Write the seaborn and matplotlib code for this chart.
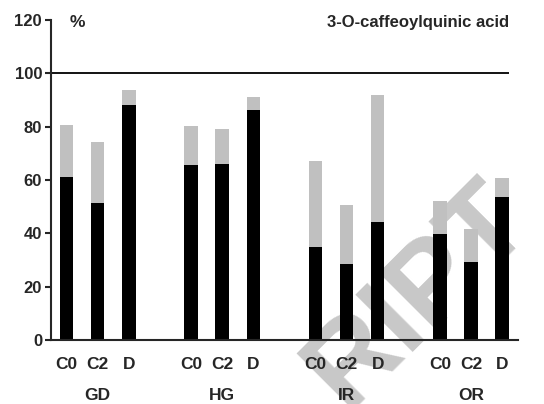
import matplotlib
matplotlib.use("Agg")
import matplotlib.pyplot as plt
import seaborn as sns
import pandas as pd

groups = ["GD", "HG", "IR", "OR"]
treatments = ["C0", "C2", "D"]
black_part = [61.2, 51.2, 88.0, 65.8, 66.0, 86.4, 34.8, 28.6, 44.2, 39.6, 29.3, 53.6]
total = [80.5, 74.2, 93.9, 80.3, 79.3, 91.3, 67.3, 50.7, 91.8, 52.2, 41.6, 60.9]

# positions: 3 bars per group, one empty slot between groups
pos = [g * 4 + t for g in range(len(groups)) for t in range(len(treatments))]
df = pd.DataFrame({"pos": pos, "black": black_part, "total": total})

sns.set_style("white")
plt.rcParams["font.family"] = ["Liberation Sans", "DejaVu Sans"]
plt.rcParams["font.weight"] = "bold"

fig = plt.figure(figsize=(5.44, 4.04), dpi=100)
ax = fig.add_axes([0.094, 0.1584, 0.858, 0.7921])
ax.set_facecolor("none")

# watermark, behind the bars (cut off at the bottom edge as in the original)
ax.text(0.768, 0.268, "RIPT", transform=fig.transFigure, fontsize=84,
        fontweight="bold", color="#c8c8c8", rotation=45, ha="center",
        va="center", rotation_mode="anchor", zorder=0.5, clip_on=False)

sns.barplot(data=df, x="pos", y="total", native_scale=True, width=0.43,
            color="#c0c0c0", saturation=1, edgecolor="none", ax=ax)
sns.barplot(data=df, x="pos", y="black", native_scale=True, width=0.43,
            color="black", saturation=1, edgecolor="none", ax=ax)

ax.hlines(100, -0.5, 14.22, color="black", linewidth=1.3)

ax.set_xlim(-0.5, 14.51)
ax.set_ylim(0, 120)
ax.set_yticks(range(0, 121, 20))
ax.set_xticks(pos)
ax.set_xticklabels(treatments * len(groups))
ax.tick_params(axis="x", length=0, pad=12, labelsize=12.5)
ax.tick_params(axis="y", direction="out", length=4.5, width=1.5, labelsize=12, pad=2, left=True)
for lab in ax.get_xticklabels() + ax.get_yticklabels():
    lab.set_fontweight("bold")
ax.set_xlabel("")
ax.set_ylabel("")

sns.despine(ax=ax)
ax.spines["left"].set_linewidth(1.5)
ax.spines["bottom"].set_linewidth(1.5)

for i, g in enumerate(groups):
    ax.text(i * 4 + 1, -0.172, g, transform=ax.get_xaxis_transform(),
            ha="center", va="center", fontsize=12.5, fontweight="bold")

ax.text(0.35, 119, "%", ha="center", va="center", fontsize=12.5, fontweight="bold")
ax.text(14.22, 119, "3-O-caffeoylquinic acid", ha="right", va="center",
        fontsize=12, fontweight="bold")

fig.savefig("out.png", dpi=100)
